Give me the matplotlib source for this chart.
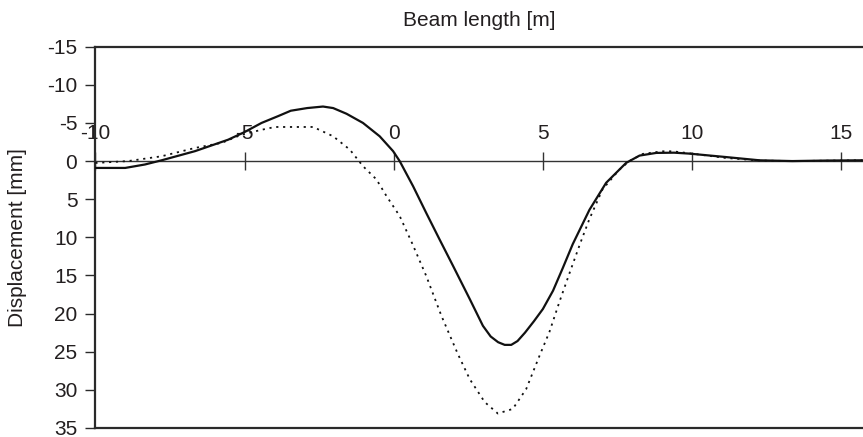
import matplotlib
matplotlib.use("Agg")
import matplotlib.pyplot as plt

plt.rcParams['font.family'] = ['Liberation Sans', 'DejaVu Sans']
plt.rcParams['axes.unicode_minus'] = False

# Solid curve (beam length [m], displacement [mm])
x_solid = [-10, -9.0, -8.34, -7.78, -6.66, -5.55, -5.0, -4.43, -3.87, -3.45, -2.9,
           -2.37, -2.03, -1.58, -1.03, -0.47, -0.02, 0.2, 0.65, 1.09, 1.54, 1.99,
           2.55, 2.99, 3.25, 3.5, 3.72, 3.94, 4.15, 4.4, 4.7, 5.0, 5.34, 5.67, 6.0,
           6.56, 7.12, 7.79, 8.24, 8.8, 9.4, 9.9, 11.1, 12.26, 13.36, 14.5, 15.7]
y_solid = [0.9, 0.9, 0.45, -0.1, -1.3, -2.8, -3.8, -5.0, -5.9, -6.6, -6.95,
           -7.15, -6.95, -6.2, -5.0, -3.25, -1.3, 0.0, 3.3, 6.8, 10.3, 13.75,
           18.1, 21.6, 23.0, 23.75, 24.1, 24.1, 23.6, 22.5, 21.0, 19.4, 17.0, 14.0,
           10.9, 6.4, 2.85, 0.24, -0.72, -1.07, -1.1, -0.98, -0.54, -0.1, 0.0,
           -0.07, -0.1]

# Dotted curve
x_dot = [-10, -8.9, -7.78, -6.66, -5.77, -5.1, -4.43, -3.98, -3.3, -2.7, -2.03,
         -1.47, -1.03, -0.58, -0.24, 0.2, 0.62, 1.09, 1.6, 2.15, 2.55, 3.05, 3.49,
         3.99, 4.44, 4.89, 5.22, 5.56, 5.92, 6.26, 6.56, 7.0, 7.57, 7.9, 8.35,
         9.0, 9.35, 10.0, 11.1, 12.26, 13.36, 14.5, 15.7]
y_dot = [0.25, 0.0, -0.63, -1.72, -2.38, -3.46, -4.1, -4.47, -4.47, -4.47, -3.25,
         -1.5, 0.67, 2.4, 4.6, 7.2, 10.8, 15.06, 20.3, 25.3, 28.6, 31.6, 33.1,
         32.5, 29.9, 25.5, 22.4, 18.4, 14.4, 10.7, 7.6, 3.7, 1.1, 0.0, -0.94,
         -1.28, -1.28, -0.98, -0.42, -0.07, 0.0, -0.05, -0.1]

x_ticks = [-10, -5, 0, 5, 10, 15]
y_ticks = [-15, -10, -5, 0, 5, 10, 15, 20, 25, 30, 35]

x_label = "Beam length [m]"
y_label = "Displacement [mm]"

TXT = '#231f20'
FS = 15

fig = plt.figure(figsize=(8.63, 4.37), dpi=100)
ax = fig.add_axes([0.1105, 0.0206, 0.8895, 0.8726])

ax.plot(x_solid, y_solid, color='#111111', lw=1.6, solid_joinstyle='round', zorder=3)
ax.plot(x_dot, y_dot, color='#111111', lw=1.3, linestyle=(0, (1.2, 2.6)), zorder=3)

ax.set_xlim(-10, 15.73)
ax.set_ylim(35, -15)

for s in ['left', 'top', 'bottom']:
    ax.spines[s].set_linewidth(1.6)
    ax.spines[s].set_color('#2a2a2a')
ax.spines['right'].set_visible(False)

ax.set_xticks([])
ax.xaxis.set_label_position('top')
ax.set_xlabel(x_label, fontsize=FS, color=TXT, labelpad=15)

ax.set_yticks(y_ticks)
ax.set_yticklabels([str(v) for v in y_ticks])
ax.tick_params(axis='y', direction='out', length=7, width=1.0, color='#2a2a2a',
               labelsize=FS, labelcolor=TXT, pad=6)
ax.set_ylabel(y_label, fontsize=FS, color=TXT)
ax.yaxis.set_label_coords(-0.089, 0.5)

# zero axis with tick labels above
sec = ax.secondary_xaxis(0.7)
sec.set_xticks(x_ticks)
sec.set_xticklabels([str(v) for v in x_ticks])
sec.spines['top'].set_linewidth(1.0)
sec.spines['top'].set_color('#333333')
sec.tick_params(axis='x', direction='inout', length=13, width=1.0, color='#333333',
                labelsize=FS, labelcolor=TXT, pad=6.5)

fig.savefig('out.png', dpi=100)
